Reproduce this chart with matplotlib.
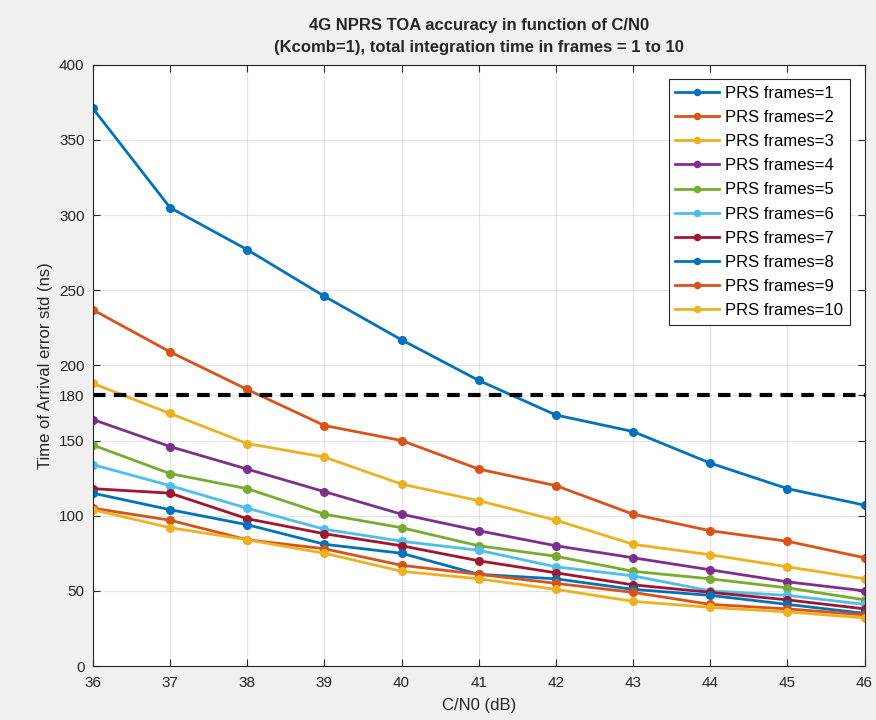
import numpy as np
import matplotlib
matplotlib.use("Agg")
import matplotlib.pyplot as plt

cn0 = [36, 37, 38, 39, 40, 41, 42, 43, 44, 45, 46]

frames_1 = [371, 305, 277, 246, 217, 190, 167, 156, 135, 118, 107]
frames_2 = [237, 209, 184, 160, 150, 131, 120, 101, 90, 83, 72]
frames_3 = [188, 168, 148, 139, 121, 110, 97, 81, 74, 66, 58]
frames_4 = [164, 146, 131, 116, 101, 90, 80, 72, 64, 56, 50]
frames_5 = [147, 128, 118, 101, 92, 80, 73, 63, 58, 52, 44]
frames_6 = [134, 120, 105, 91, 83, 77, 66, 60, 50, 47, 41]
frames_7 = [118, 115, 98, 88, 80, 70, 62, 54, 49, 44, 38]
frames_8 = [115, 104, 94, 81, 75, 61, 58, 51, 47, 41, 35]
frames_9 = [105, 97, 84, 78, 67, 61, 55, 49, 41, 38, 34]
frames_10 = [104, 92, 84, 75, 63, 58, 51, 43, 39, 36, 32]

series = [frames_1, frames_2, frames_3, frames_4, frames_5,
          frames_6, frames_7, frames_8, frames_9, frames_10]
labels = ['PRS frames=%d' % k for k in range(1, 11)]

threshold = 180
yticks = [0, 50, 100, 150, 180, 200, 250, 300, 350, 400]

# matlab default line colors
colors = ['#0072BD', '#D95319', '#EDB120', '#7E2F8E', '#77AC30',
          '#4DBEEE', '#A2142F', '#0072BD', '#D95319', '#EDB120']

plt.rcParams['font.family'] = ['Liberation Sans', 'DejaVu Sans']

fig = plt.figure(figsize=(8.76, 7.2), dpi=100, facecolor='#f0f0f0')
ax = fig.add_axes([0.106, 0.075, 0.881, 0.835])
ax.set_facecolor('white')

for vals, lab, c in zip(series, labels, colors):
    ax.plot(cn0, vals, '.-', color=c, linewidth=2, markersize=11, label=lab)

ax.axhline(threshold, color='black', linestyle=(0, (3, 2)), linewidth=3)

ax.set_xlim(36, 46)
ax.set_ylim(0, 400)
ax.set_xticks(cn0)
ax.set_yticks(yticks)
ax.grid(True, color='#262626', alpha=0.12, linewidth=0.8)
ax.tick_params(direction='in', top=True, right=True, labelsize=11,
               colors='#262626', length=5)
ax.tick_params(axis='x', pad=7)
ax.tick_params(axis='y', pad=6)
for s in ax.spines.values():
    s.set_color('#262626')

ax.set_xlabel('C/N0 (dB)', fontsize=12, color='#262626', labelpad=6)
ax.set_ylabel('Time of Arrival error std (ns)', fontsize=12, color='#262626')
ax.set_title('4G NPRS TOA accuracy in function of C/N0\n'
             '(Kcomb=1), total integration time in frames = 1 to 10',
             fontsize=12, fontweight='bold', color='#262626', pad=9,
             linespacing=1.6)

leg = ax.legend(loc='upper right', fontsize=12, fancybox=False,
                framealpha=1, edgecolor='#262626', handlelength=2.6,
                borderaxespad=0.5, labelspacing=0.55, handletextpad=0.4,
                markerscale=0.8, bbox_to_anchor=(0.992, 0.99))
leg.get_frame().set_linewidth(0.8)

fig.savefig('out.png', dpi=100, facecolor=fig.get_facecolor())
